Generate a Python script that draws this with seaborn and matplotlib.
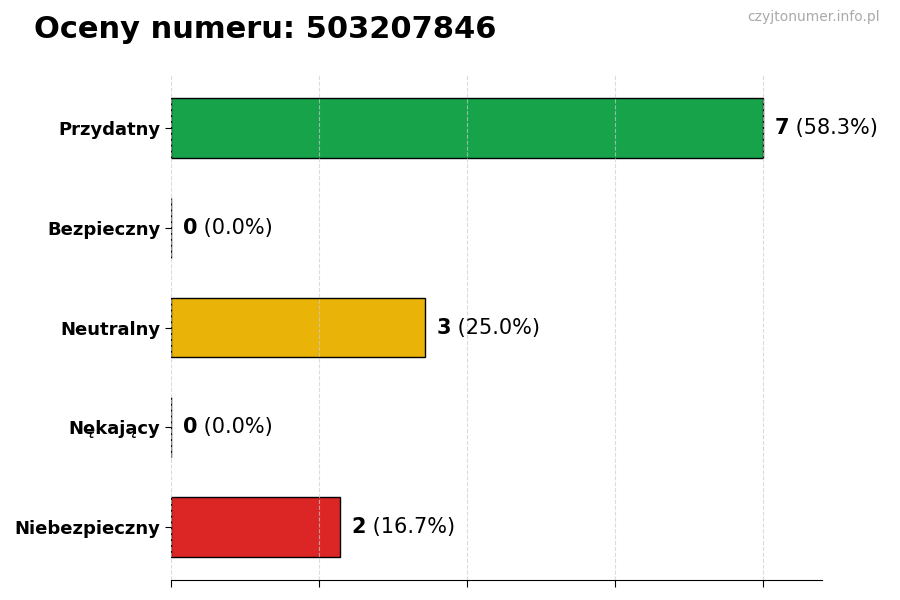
import numpy as np
import pandas as pd
import matplotlib
matplotlib.use("Agg")
import matplotlib.pyplot as plt
import seaborn as sns

categories = ["Przydatny", "Bezpieczny", "Neutralny", "Nękający", "Niebezpieczny"]
counts = [7, 0, 3, 0, 2]
percents = [58.3, 0.0, 25.0, 0.0, 16.7]
colors = ["#16a34a", "#16a34a", "#eab308", "#dc2626", "#dc2626"]
phone = "503207846"

df = pd.DataFrame({"kategoria": categories, "liczba": counts})

sns.set_style("white", {"xtick.bottom": True, "ytick.left": True})
plt.rcParams["font.family"] = ["DejaVu Sans"]
plt.rcParams.update({"text.color": "black", "xtick.color": "black",
                     "ytick.color": "black", "axes.edgecolor": "black",
                     "axes.labelcolor": "black"})

fig = plt.figure(figsize=(9, 6), dpi=100)
ax = fig.add_axes([0.19, 0.0333, 0.723, 0.8417])

sns.barplot(data=df, x="liczba", y="kategoria", hue="kategoria",
            palette=dict(zip(categories, colors)), order=categories,
            saturation=1, edgecolor="black", linewidth=1, width=0.6,
            legend=False, ax=ax)

vmax = max(counts)
ax.set_xlim(0, vmax * 1.1)
ax.set_ylim(4.53, -0.53)
ax.set_xticks(np.linspace(0, vmax, 5))
ax.set_xticklabels([])
ax.grid(axis="x", linestyle="--", color="#cccccc", linewidth=0.8, alpha=0.7)
ax.set_axisbelow(False)
ax.set_xlabel("")
ax.set_ylabel("")
for s in ["top", "right", "left"]:
    ax.spines[s].set_visible(False)
ax.tick_params(axis="y", length=4, width=0.8, labelsize=13, colors="black")
ax.tick_params(axis="x", length=5, width=0.8, colors="black")
for lab in ax.get_yticklabels():
    lab.set_fontweight("bold")

for i, (c, p) in enumerate(zip(counts, percents)):
    t = ax.text(c + vmax * 0.02, i, f"{c}", fontsize=15, fontweight="bold",
                va="center", ha="left", color="black")
    ax.annotate(f" ({p:.1f}%)", xy=(1, 0.5), xycoords=t, va="center",
                ha="left", fontsize=15, color="black")

fig.text(0.038, 0.95, f"Oceny numeru: {phone}", fontsize=22,
         fontweight="bold", va="center", ha="left", color="black")
fig.text(0.978, 0.971, "czyjtonumer.info.pl", fontsize=10, color="#aaaaaa",
         va="center", ha="right")

fig.savefig("out.png", dpi=100)
